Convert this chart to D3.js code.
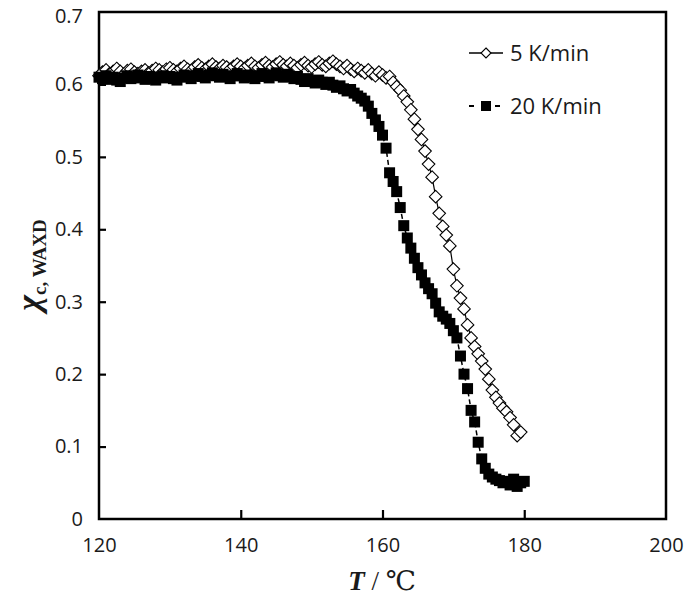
<!DOCTYPE html>
<html>
<head>
<meta charset="utf-8">
<script src="https://cdn.jsdelivr.net/npm/d3@7"></script>
<style>
  html, body { margin: 0; padding: 0; background: #fff; }
  svg { display: block; }
</style>
</head>
<body>
<svg id="chart" width="685" height="604"></svg>
<script>
// ---- data ----
const seriesNames = ["5 K/min", "20 K/min"];
const xTicks = [120, 140, 160, 180, 200];
const yTicks = [0, 0.1, 0.2, 0.3, 0.4, 0.5, 0.6, 0.7];

const t5 = [120.0,120.5,121.0,121.5,122.0,122.5,123.0,123.5,124.0,124.5,125.0,125.5,126.0,126.5,127.0,127.5,128.0,128.5,129.0,129.5,
130.0,130.5,131.0,131.5,132.0,132.5,133.0,133.5,134.0,134.5,135.0,135.5,136.0,136.5,137.0,137.5,138.0,138.5,139.0,139.5,
140.0,140.5,141.0,141.5,142.0,142.5,143.0,143.5,144.0,144.5,145.0,145.5,146.0,146.5,147.0,147.5,148.0,148.5,149.0,149.5,
150.0,150.5,151.0,151.5,152.0,152.5,153.0,153.5,154.0,154.5,155.0,155.5,156.0,156.5,157.0,157.5,158.0,158.5,159.0,159.5,
160.0,160.5,161.0,161.5,162.0,162.5,163.0,163.5,164.0,164.5,165.0,165.5,166.0,166.5,167.0,167.5,168.0,168.5,169.0,169.5,
170.0,170.5,171.0,171.5,172.0,172.5,173.0,173.5,174.0,174.5,175.0,175.5,176.0,176.5,177.0,177.5,178.0,178.5,179.0,179.5];
const v5 = [0.612,0.617,0.620,0.615,0.618,0.622,0.618,0.614,0.619,0.621,0.617,0.615,0.618,0.620,0.616,0.619,0.622,0.620,0.617,0.621,
0.623,0.620,0.618,0.622,0.625,0.621,0.619,0.624,0.627,0.623,0.621,0.625,0.628,0.624,0.622,0.626,0.624,0.621,0.625,0.628,
0.625,0.622,0.626,0.629,0.625,0.623,0.627,0.630,0.626,0.624,0.628,0.631,0.627,0.625,0.629,0.626,0.623,0.627,0.630,0.626,
0.624,0.628,0.631,0.627,0.625,0.629,0.632,0.628,0.625,0.622,0.626,0.621,0.618,0.622,0.619,0.616,0.620,0.615,0.612,0.617,
0.613,0.609,0.611,0.603,0.597,0.592,0.584,0.576,0.565,0.552,0.538,0.524,0.508,0.490,0.472,0.445,0.422,0.404,0.392,0.377,
0.345,0.322,0.305,0.290,0.268,0.250,0.238,0.228,0.218,0.207,0.193,0.178,0.168,0.160,0.153,0.148,0.140,0.130,0.115,0.120];

const t20 = [120.0,120.5,121.0,121.5,122.0,122.5,123.0,123.5,124.0,124.5,125.0,125.5,126.0,126.5,127.0,127.5,128.0,128.5,129.0,129.5,
130.0,130.5,131.0,131.5,132.0,132.5,133.0,133.5,134.0,134.5,135.0,135.5,136.0,136.5,137.0,137.5,138.0,138.5,139.0,139.5,
140.0,140.5,141.0,141.5,142.0,142.5,143.0,143.5,144.0,144.5,145.0,145.5,146.0,146.5,147.0,147.5,148.0,148.5,149.0,149.5,
150.0,150.5,151.0,151.5,152.0,152.5,153.0,153.5,154.0,154.5,155.0,155.5,156.0,156.5,157.0,157.5,158.0,158.5,159.0,159.5,
160.0,160.5,161.0,161.5,162.0,162.5,163.0,163.5,164.0,164.5,165.0,165.5,166.0,166.5,167.0,167.5,168.0,168.5,169.0,169.5,
170.0,170.5,171.0,171.5,172.0,172.5,173.0,173.5,174.0,174.5,175.0,175.5,176.0,176.5,177.0,177.5,178.0,178.5,179.0,179.5,180.0];
const v20 = [0.610,0.608,0.612,0.607,0.610,0.606,0.604,0.609,0.612,0.608,0.610,0.613,0.609,0.607,0.611,0.608,0.606,0.610,0.612,0.609,
0.611,0.608,0.606,0.610,0.613,0.611,0.608,0.612,0.615,0.611,0.609,0.613,0.616,0.612,0.610,0.614,0.611,0.608,0.612,0.615,
0.612,0.609,0.613,0.611,0.608,0.612,0.615,0.611,0.609,0.613,0.616,0.612,0.610,0.614,0.611,0.608,0.611,0.607,0.604,0.608,
0.605,0.602,0.606,0.603,0.600,0.603,0.599,0.596,0.598,0.594,0.591,0.593,0.588,0.584,0.581,0.577,0.570,0.560,0.551,0.542,
0.530,0.512,0.478,0.466,0.452,0.430,0.405,0.388,0.374,0.360,0.347,0.337,0.326,0.318,0.311,0.298,0.286,0.280,0.276,0.270,
0.260,0.250,0.225,0.200,0.180,0.150,0.134,0.106,0.083,0.070,0.062,0.058,0.055,0.053,0.050,0.052,0.047,0.055,0.045,0.050,0.052];

// ---- layout ----
const svg = d3.select("#chart");
const L = 99, R = 666, T = 12, B = 519;
const x = d3.scaleLinear().domain([120, 200]).range([L, R]);
const y = d3.scaleLinear().domain([0, 0.7]).range([B, T]);

const tickFont = "'Open Sans', 'Liberation Sans', sans-serif";

// axes
const yAxis = d3.axisLeft(y).tickValues(yTicks).tickSize(-7).tickPadding(16)
  .tickFormat(d => d === 0 ? "0" : d3.format(".1f")(d));
const gy = svg.append("g").attr("transform", `translate(${L},0)`).call(yAxis);
const xAxis = d3.axisBottom(x).tickValues(xTicks).tickSize(-9).tickPadding(19)
  .tickFormat(d3.format("d"));
const gx = svg.append("g").attr("transform", `translate(0,${B})`).call(xAxis);
[gx, gy].forEach(g => {
  g.select(".domain").remove();
  g.selectAll(".tick line").attr("stroke", "#000").attr("stroke-width", 2.2);
  g.selectAll(".tick text").attr("fill", "#1a1a1a").style("font-family", tickFont).style("font-size", "20px");
});
gx.selectAll(".tick").filter(d => d === 120 || d === 200).select("line").remove();
gy.selectAll(".tick").filter(d => d === 0 || d === 0.7).select("line").remove();
// keep the top label fully inside the page
gy.selectAll(".tick").filter(d => d === 0.7).select("text").attr("dy", "0.52em");

// frame
svg.append("rect").attr("x", L).attr("y", T).attr("width", R - L).attr("height", B - T)
  .attr("fill", "none").attr("stroke", "#000").attr("stroke-width", 2.5);

const d5 = t5.map((t, i) => ({ t, v: v5[i] }));
const d20 = t20.map((t, i) => ({ t, v: v20[i] }));

const line = d3.line().x(d => x(d.t)).y(d => y(d.v));
const diamond = "M0,-6.3L6.3,0L0,6.3L-6.3,0Z";

// 5 K/min
svg.append("path").datum(d5).attr("d", line).attr("fill", "none")
  .attr("stroke", "#000").attr("stroke-width", 1.2);
svg.append("g").selectAll("path").data(d5).join("path")
  .attr("transform", d => `translate(${x(d.t)},${y(d.v)})`)
  .attr("d", diamond).attr("fill", "#fff").attr("stroke", "#000").attr("stroke-width", 1.1);

// 20 K/min
svg.append("path").datum(d20).attr("d", line).attr("fill", "none")
  .attr("stroke", "#000").attr("stroke-width", 1.5).attr("stroke-dasharray", "5,3");
svg.append("g").selectAll("rect").data(d20).join("rect")
  .attr("x", d => x(d.t) - 5.5).attr("y", d => y(d.v) - 5.5)
  .attr("width", 11).attr("height", 11).attr("fill", "#000");

// legend
const lg = svg.append("g");
lg.append("line").attr("x1", 469).attr("x2", 503).attr("y1", 53).attr("y2", 53)
  .attr("stroke", "#000").attr("stroke-width", 1.5);
lg.append("path").attr("transform", "translate(486,53)").attr("d", "M0,-5L5,0L0,5L-5,0Z")
  .attr("fill", "#fff").attr("stroke", "#000").attr("stroke-width", 1.1);
lg.append("text").attr("x", 510).attr("y", 61).text(seriesNames[0])
  .style("font-family", tickFont).style("font-size", "22px").attr("fill", "#1a1a1a");
lg.append("line").attr("x1", 469).attr("x2", 503).attr("y1", 106).attr("y2", 106)
  .attr("stroke", "#000").attr("stroke-width", 2).attr("stroke-dasharray", "5,8");
lg.append("rect").attr("x", 481).attr("y", 101).attr("width", 10).attr("height", 10).attr("fill", "#000");
lg.append("text").attr("x", 510).attr("y", 114).text(seriesNames[1])
  .style("font-family", tickFont).style("font-size", "22px").attr("fill", "#1a1a1a");

// axis titles
const serif = "'Liberation Serif', 'DejaVu Serif', serif";
const xt = svg.append("text").attr("x", 382).attr("y", 590).attr("text-anchor", "middle")
  .style("font-family", serif).style("font-size", "27px").attr("fill", "#1a1a1a");
xt.append("tspan").text("T").style("font-weight", "bold").style("font-style", "italic");
xt.append("tspan").text(" / ℃");

const yt = svg.append("text").attr("transform", "translate(40,265) rotate(-90)")
  .attr("text-anchor", "middle").style("font-family", serif).attr("fill", "#1a1a1a");
yt.append("tspan").text("χ").style("font-size", "34px").style("font-weight", "bold").style("font-style", "italic");
yt.append("tspan").text("c, WAXD").attr("dy", 6).style("font-size", "19px").style("font-weight", "bold");
</script>
</body>
</html>
